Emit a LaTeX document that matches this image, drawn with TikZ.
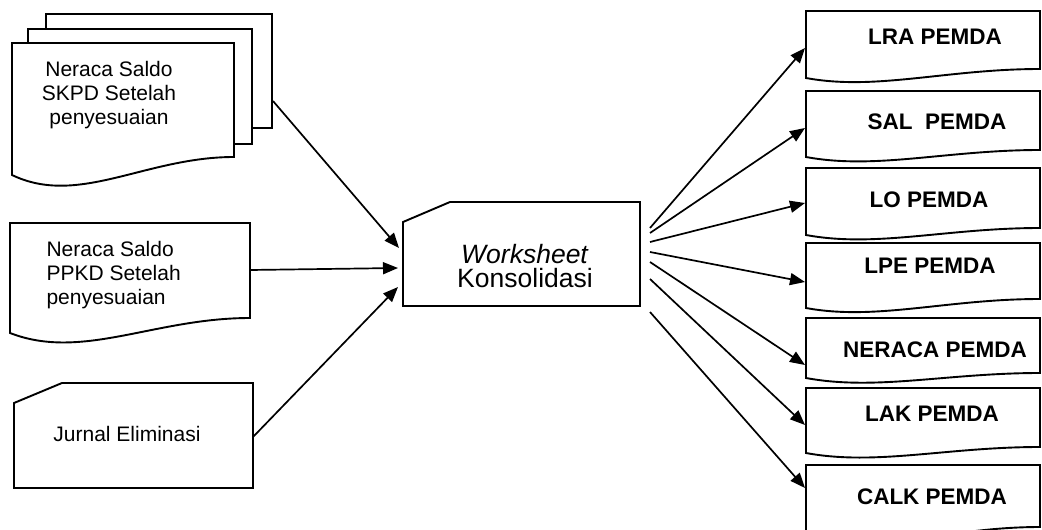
\documentclass[tikz,border=0pt]{standalone}
\usepackage{fontspec}
\setmainfont{Liberation Sans}
\usepackage{tikz}
\usetikzlibrary{arrows.meta}
\tikzset{
  sheet/.style={draw=black, line width=1.9pt, fill=white},
  flow/.style={line width=1.7pt, -{Triangle[length=15pt,width=12pt]}},
  intext/.style={font=\fontsize{21}{24}\selectfont},
  outtext/.style={font=\fontsize{22.5}{26}\selectfont\bfseries},
}
% document sheet with a wavy lower edge:
% #1 left, #2 top, #3 right, #4 lower left, #5 lower right, #6 dip
\newcommand{\docsheet}[6]{%
  \pgfmathsetmacro\docw{#3-#1}
  \draw[sheet] (#1,#4) -- (#1,#2) -- (#3,#2) -- (#3,#5)
    .. controls +({-0.4*\docw},0) and +({0.3*\docw},#6) .. (#1,#4) -- cycle;
}
% card with the upper left corner cut off
\newcommand{\cardsheet}[6]{%
  \draw[sheet] (#1,#6) -- (#5,#2) -- (#3,#2) -- (#3,#4) -- (#1,#4) -- cycle;
}

\begin{document}
\begin{tikzpicture}[x=1pt, y=-1pt, line join=miter]
  \useasboundingbox (0,0) rectangle (1042,530);
  \clip (0,0) rectangle (1042,530);

  % stack of SKPD balances
  \draw[sheet] (46,14) rectangle (272,128);
  \draw[sheet] (28,29) rectangle (252,144);
  \docsheet{12}{43}{234}{175}{157}{32}
  \node[intext, align=center] (skpd) at (109,95)
    {Neraca Saldo\\SKPD Setelah\\penyesuaian};
  \coordinate (skpd-out) at (273,101);

  % PPKD balance
  \docsheet{10}{223}{250}{333}{318}{28}
  \node[intext, align=left, anchor=west] (ppkd) at (43,275)
    {Neraca Saldo\\PPKD Setelah\\penyesuaian};
  \coordinate (ppkd-out) at (250,270);

  % eliminations
  \cardsheet{14}{383}{253}{488}{62}{403}
  \node[intext] (elim) at (127,434) {Jurnal Eliminasi};
  \coordinate (elim-out) at (253,437);

  % consolidation worksheet
  \cardsheet{403}{202}{640}{306}{450}{222}
  \node[font=\fontsize{26.5}{24}\selectfont, align=center] (ws) at (525,266)
    {\textit{Worksheet}\\Konsolidasi};
  \coordinate (ws-in1) at (399,248);
  \coordinate (ws-in2) at (398,268);
  \coordinate (ws-in3) at (398,287);

  \draw[flow] (skpd-out) -- (ws-in1);
  \draw[flow] (ppkd-out) -- (ws-in2);
  \draw[flow] (elim-out) -- (ws-in3);

  % reports of the regional government
  \foreach \rep/\txt/\top/\bl/\br/\tx/\ty/\sy/\ey in {
      lra/LRA PEMDA/11/78/69/935/37/228/48,
      sal/SAL~~PEMDA/91/157/150/937/122/233/128,
      lo/LO PEMDA/168/235/228/929/200/242/203,
      lpe/LPE PEMDA/243/308/299/930/266/252/282,
      ner/NERACA PEMDA/318/378/373/935/350/262/365,
      lak/LAK PEMDA/388/453/447/932/414/279/425,
      calk/CALK PEMDA/465/542/527/932/497/312/488}{
    \docsheet{806}{\top}{1040}{\bl}{\br}{13}
    \node[outtext] (\rep) at (\tx,\ty) {\txt};
    \coordinate (\rep-in) at (805,\ey);
    \coordinate (ws-\rep) at (650,\sy);
    \draw[flow] (ws-\rep) -- (\rep-in);
  }
\end{tikzpicture}
\end{document}
